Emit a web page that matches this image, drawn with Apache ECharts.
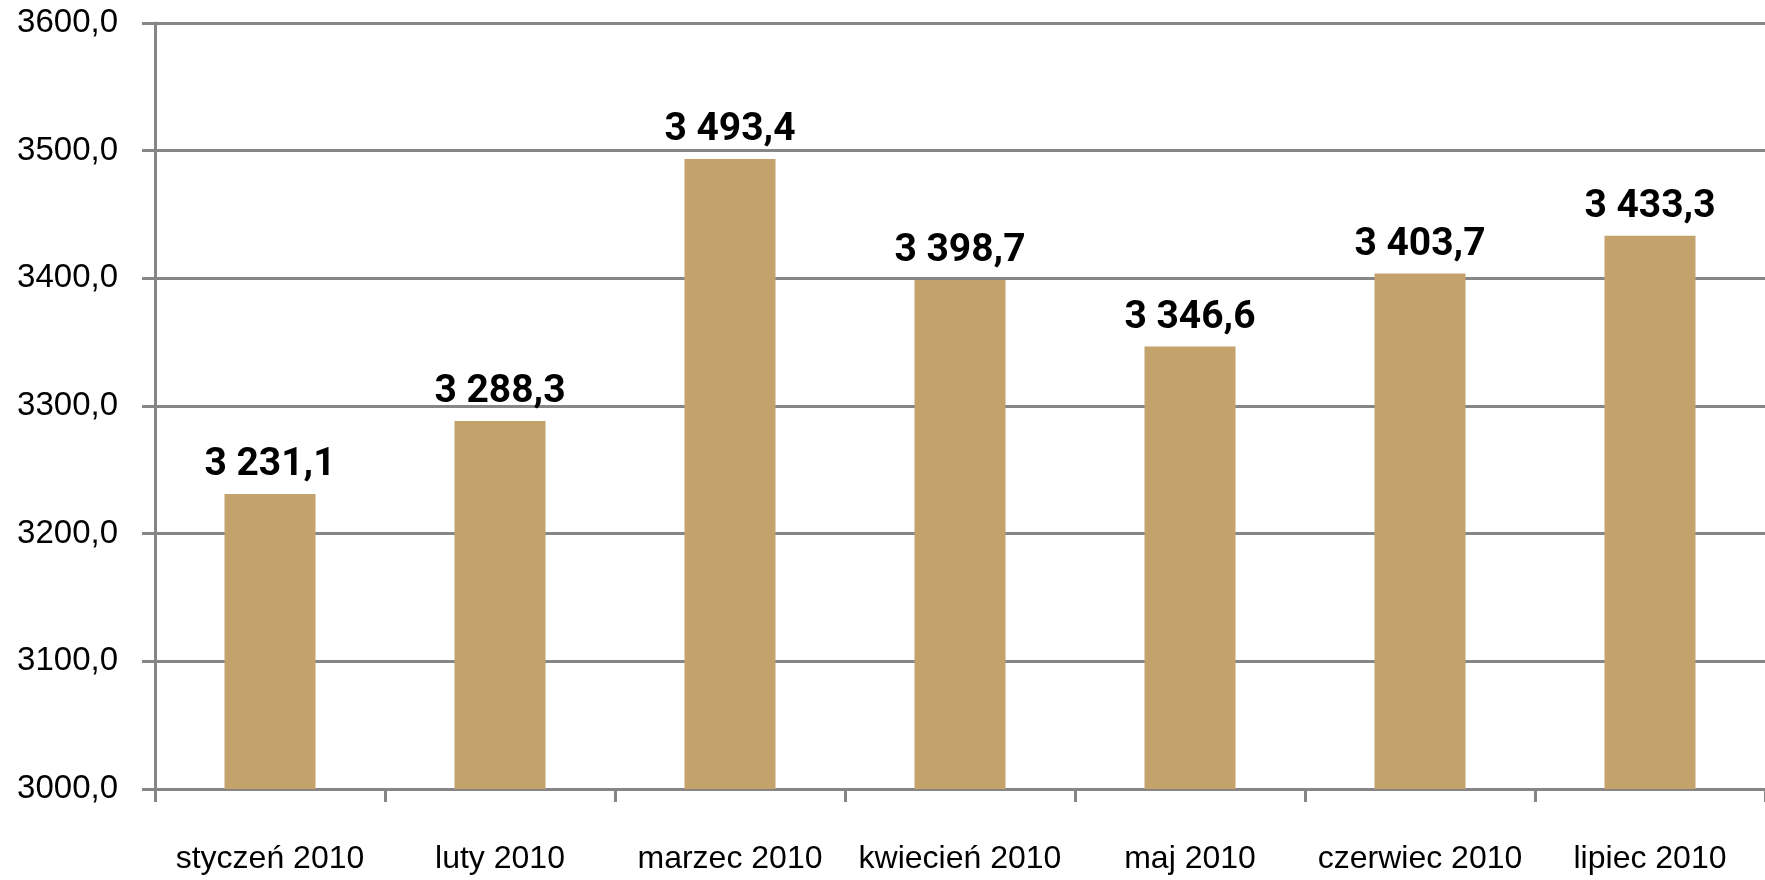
<!DOCTYPE html>
<html>
<head>
<meta charset="utf-8">
<script src="https://cdn.jsdelivr.net/npm/echarts@6/dist/echarts.min.js"></script>
<style>
    html, body { margin: 0; padding: 0; background: #fff; }
    #chart { width: 1765px; height: 880px; }
</style>
</head>
<body>
<div id="chart"></div>
<script>
    // dane z wykresu
    var months = ['styczeń 2010', 'luty 2010', 'marzec 2010', 'kwiecień 2010', 'maj 2010', 'czerwiec 2010', 'lipiec 2010'];
    var values = [3231.1, 3288.3, 3493.4, 3398.7, 3346.6, 3403.7, 3433.3];
    var yMin = 3000, yMax = 3600, yStep = 100;

    function plNumber(v) {
        // "3 231,1"
        var s = v.toFixed(1).split('.');
        var intPart = s[0].replace(/\B(?=(\d{3})+(?!\d))/g, ' ');
        return intPart + ',' + s[1];
    }

    var grey = '#868686';
    var myChart = echarts.init(document.getElementById('chart'));
    myChart.setOption({
        animation: false,
        grid: {left: 155, top: 23, width: 1617, height: 766},
        xAxis: {
            type: 'category',
            data: months,
            axisLine: {lineStyle: {color: grey, width: 3}},
            axisTick: {show: true, length: 13, lineStyle: {color: grey, width: 3}},
            axisLabel: {
                color: '#000', fontFamily: 'Liberation Sans', fontSize: 32, margin: 54,
                interval: 0
            }
        },
        yAxis: {
            type: 'value',
            min: yMin, max: yMax, interval: yStep,
            axisLine: {show: true, lineStyle: {color: grey, width: 3}},
            axisTick: {show: true, length: 13, lineStyle: {color: grey, width: 3}},
            splitLine: {lineStyle: {color: grey, width: 3}},
            axisLabel: {
                color: '#000', fontFamily: 'Liberation Sans', fontSize: 33, margin: 37,
                formatter: function (v) { return v.toFixed(1).replace('.', ','); }
            }
        },
        series: [{
            type: 'bar',
            data: values,
            barWidth: 91,
            itemStyle: {color: '#C4A26C'},
            label: {
                show: true, position: 'top', distance: 9,
                color: '#000', fontWeight: 'bold', fontSize: 39,
                fontFamily: "Roboto, 'Liberation Sans'",
                formatter: function (p) { return plNumber(p.value); }
            }
        }]
    });
</script>
</body>
</html>
